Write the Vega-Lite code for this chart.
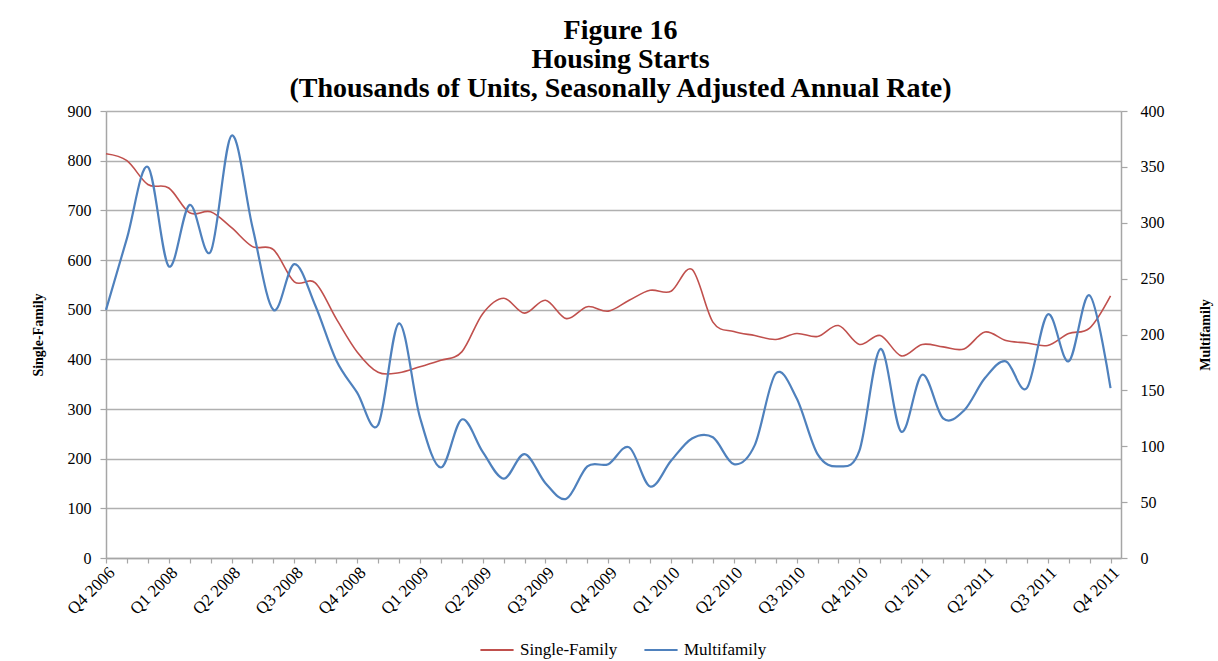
{
  "$schema": "https://vega.github.io/schema/vega-lite/v6.json",
  "width": 1015,
  "height": 447,
  "autosize": {"type": "none"},
  "padding": {"left": 106, "top": 111, "right": 97, "bottom": 103},
  "background": "white",
  "title": {
    "text": ["Figure 16", "Housing Starts", "(Thousands of Units, Seasonally Adjusted Annual Rate)"],
    "font": "Liberation Serif",
    "fontSize": 28,
    "fontWeight": "bold",
    "color": "black",
    "lineHeight": 29,
    "offset": 0,
    "dx": 7,
    "anchor": "middle"
  },
  "data": {
    "values": [
      {"t": 0, "single": 814, "multi": 222},
      {"t": 1, "single": 800, "multi": 286},
      {"t": 2, "single": 752, "multi": 350},
      {"t": 3, "single": 745, "multi": 261},
      {"t": 4, "single": 695, "multi": 316},
      {"t": 5, "single": 697, "multi": 274},
      {"t": 6, "single": 665, "multi": 378},
      {"t": 7, "single": 627, "multi": 296},
      {"t": 8, "single": 621, "multi": 222},
      {"t": 9, "single": 556, "multi": 263},
      {"t": 10, "single": 554, "multi": 226},
      {"t": 11, "single": 482, "multi": 177},
      {"t": 12, "single": 415, "multi": 148},
      {"t": 13, "single": 374, "multi": 119},
      {"t": 14, "single": 373, "multi": 210},
      {"t": 15, "single": 385, "multi": 126},
      {"t": 16, "single": 398, "multi": 81},
      {"t": 17, "single": 415, "multi": 124},
      {"t": 18, "single": 492, "multi": 95},
      {"t": 19, "single": 523, "multi": 71},
      {"t": 20, "single": 493, "multi": 93},
      {"t": 21, "single": 519, "multi": 67},
      {"t": 22, "single": 482, "multi": 53},
      {"t": 23, "single": 506, "multi": 82},
      {"t": 24, "single": 497, "multi": 84},
      {"t": 25, "single": 519, "multi": 99},
      {"t": 26, "single": 539, "multi": 64},
      {"t": 27, "single": 537, "multi": 87},
      {"t": 28, "single": 581, "multi": 107},
      {"t": 29, "single": 475, "multi": 108},
      {"t": 30, "single": 456, "multi": 84},
      {"t": 31, "single": 448, "multi": 101},
      {"t": 32, "single": 440, "multi": 165},
      {"t": 33, "single": 452, "multi": 143},
      {"t": 34, "single": 446, "multi": 93},
      {"t": 35, "single": 468, "multi": 82},
      {"t": 36, "single": 430, "multi": 96},
      {"t": 37, "single": 448, "multi": 187},
      {"t": 38, "single": 407, "multi": 113},
      {"t": 39, "single": 430, "multi": 164},
      {"t": 40, "single": 425, "multi": 125},
      {"t": 41, "single": 421, "multi": 132},
      {"t": 42, "single": 455, "multi": 161},
      {"t": 43, "single": 438, "multi": 176},
      {"t": 44, "single": 433, "multi": 152},
      {"t": 45, "single": 428, "multi": 218},
      {"t": 46, "single": 452, "multi": 176},
      {"t": 47, "single": 463, "multi": 235},
      {"t": 48, "single": 528, "multi": 152}
    ]
  },
  "encoding": {
    "x": {
      "field": "t",
      "type": "quantitative",
      "scale": {"domain": [0, 48.5], "nice": false, "zero": false},
      "axis": {
        "title": null,
        "grid": false,
        "values": [0,1,2,3,4,5,6,7,8,9,10,11,12,13,14,15,16,17,18,19,20,21,22,23,24,25,26,27,28,29,30,31,32,33,34,35,36,37,38,39,40,41,42,43,44,45,46,47,48],
        "labelExpr": "datum.value % 3 == 0 ? ['Q4 2006','Q1 2008','Q2 2008','Q3 2008','Q4 2008','Q1 2009','Q2 2009','Q3 2009','Q4 2009','Q1 2010','Q2 2010','Q3 2010','Q4 2010','Q1 2011','Q2 2011','Q3 2011','Q4 2011'][datum.value / 3] : ''",
        "labelAngle": -45,
        "labelAlign": "right",
        "labelBaseline": "top",
        "labelOverlap": false,
        "labelFlush": false,
        "labelPadding": 1,
        "labelFontSize": 17,
        "tickSize": 5
      }
    }
  },
  "layer": [
    {
      "mark": {"type": "line", "interpolate": "cardinal", "strokeWidth": 1.6},
      "encoding": {
        "y": {
          "field": "single",
          "type": "quantitative",
          "scale": {"domain": [0, 900], "nice": false},
          "axis": {
            "orient": "left",
            "title": "Single-Family",
            "values": [0, 100, 200, 300, 400, 500, 600, 700, 800, 900],
            "grid": true,
            "tickSize": 6,
            "labelPadding": 9,
            "titlePadding": 22
          }
        },
        "color": {
          "datum": "Single-Family",
          "type": "nominal",
          "scale": {"domain": ["Single-Family", "Multifamily"], "range": ["#C0504D", "#4F81BD"]},
          "legend": {
            "title": null,
            "orient": "none",
            "legendX": 373,
            "legendY": 521,
            "direction": "horizontal",
            "symbolType": "stroke",
            "symbolSize": 1100,
            "symbolStrokeWidth": 2,
            "labelFont": "Liberation Serif",
            "labelFontSize": 17,
            "labelColor": "black",
            "labelLimit": 0,
            "columnPadding": 22,
            "labelOffset": 5
          }
        }
      }
    },
    {
      "mark": {"type": "line", "interpolate": "cardinal", "strokeWidth": 2.2},
      "encoding": {
        "y": {
          "field": "multi",
          "type": "quantitative",
          "scale": {"domain": [0, 400], "nice": false},
          "axis": {
            "orient": "right",
            "title": "Multifamily",
            "titleAngle": 270,
            "values": [0, 50, 100, 150, 200, 250, 300, 350, 400],
            "grid": false,
            "tickSize": 6,
            "labelPadding": 13,
            "titlePadding": 48
          }
        },
        "color": {"datum": "Multifamily", "type": "nominal"}
      }
    }
  ],
  "resolve": {"scale": {"y": "independent"}},
  "config": {
    "view": {"stroke": null},
    "axis": {
      "labelFont": "Liberation Serif",
      "labelFontSize": 16,
      "labelColor": "black",
      "titleFont": "Liberation Serif",
      "titleFontSize": 14,
      "titleFontWeight": "bold",
      "titleColor": "black",
      "domainColor": "#A6A6A6",
      "domainWidth": 1.5,
      "tickColor": "#A6A6A6",
      "tickWidth": 1.2,
      "gridColor": "#B0B0B0",
      "gridWidth": 1.3
    }
  }
}
